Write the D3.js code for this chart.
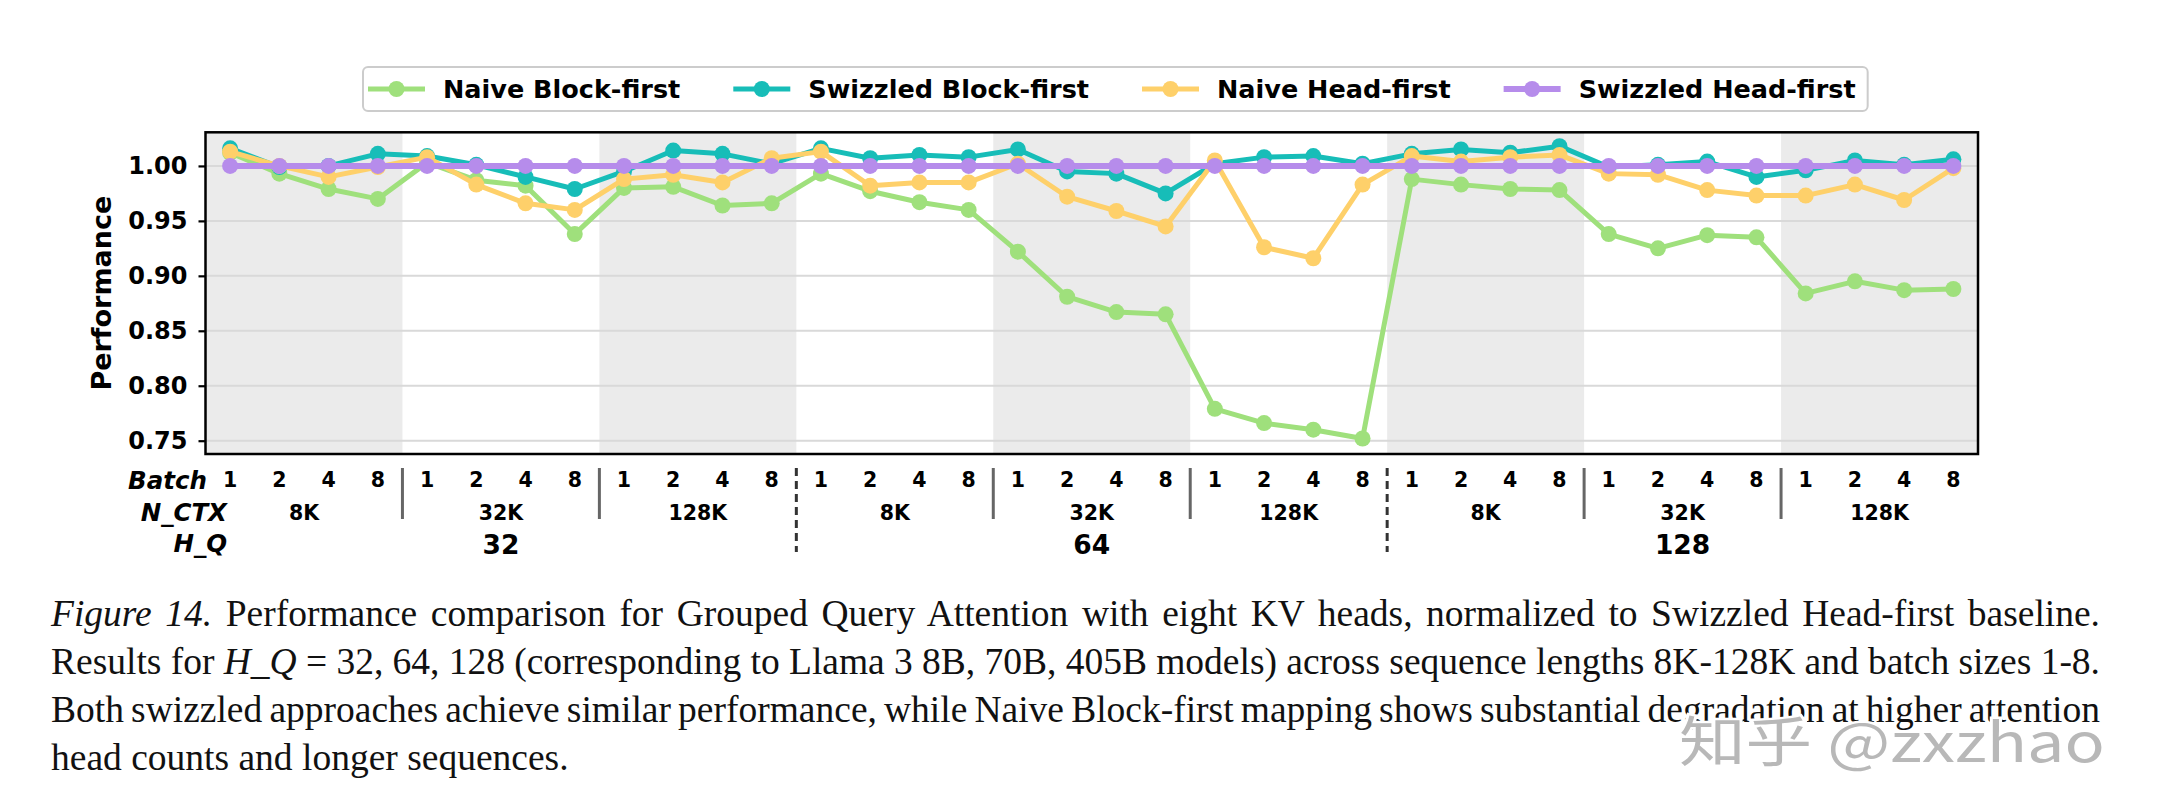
<!DOCTYPE html>
<html>
<head>
<meta charset="utf-8">
<script src="https://cdn.jsdelivr.net/npm/d3@7"></script>
<style>
  body { margin: 0; background: #fff; }
  svg { display: block; }
</style>
</head>
<body>
<svg id="chart" width="2162" height="808"></svg>
<script>
// data
const batchLabels = ["1", "2", "4", "8"];
const ctxLabels = ["8K", "32K", "128K"];
const hqLabels = ["32", "64", "128"];
const yTicks = [0.75, 0.80, 0.85, 0.90, 0.95, 1.00];

const naiveBlock = [1.012, 0.993, 0.979, 0.970, 1.003, 0.987, 0.982, 0.938, 0.980, 0.981, 0.964, 0.966,
                    0.993, 0.977, 0.967, 0.960, 0.922, 0.881, 0.867, 0.865, 0.779, 0.766, 0.760, 0.752,
                    0.988, 0.983, 0.979, 0.978, 0.938, 0.925, 0.937, 0.935, 0.884, 0.895, 0.887, 0.888];
const swizBlock = [1.016, 0.999, 1.000, 1.011, 1.009, 1.001, 0.990, 0.979, 0.995, 1.014, 1.011, 1.002,
                   1.016, 1.007, 1.010, 1.008, 1.015, 0.995, 0.993, 0.975, 1.002, 1.008, 1.009, 1.002,
                   1.011, 1.015, 1.012, 1.018, 0.999, 1.001, 1.004, 0.990, 0.996, 1.005, 1.001, 1.006];
const naiveHead = [1.013, 1.000, 0.990, 0.999, 1.008, 0.983, 0.966, 0.960, 0.988, 0.992, 0.985, 1.007,
                   1.013, 0.982, 0.985, 0.985, 1.002, 0.972, 0.959, 0.945, 1.005, 0.926, 0.916, 0.983,
                   1.009, 1.004, 1.008, 1.010, 0.993, 0.992, 0.978, 0.973, 0.973, 0.983, 0.969, 0.998];
const swizHead = [1, 1, 1, 1, 1, 1, 1, 1, 1, 1, 1, 1,
                  1, 1, 1, 1, 1, 1, 1, 1, 1, 1, 1, 1,
                  1, 1, 1, 1, 1, 1, 1, 1, 1, 1, 1, 1];

const series = [
  { name: "Naive Block-first", values: naiveBlock, color: "#9fe07c", w: 5 },
  { name: "Swizzled Block-first", values: swizBlock, color: "#17bdb8", w: 5 },
  { name: "Naive Head-first", values: naiveHead, color: "#fed06a", w: 5 },
  { name: "Swizzled Head-first", values: swizHead, color: "#b68ceb", w: 6 }
];

const captionLines = [
  [{ t: "Figure 14.", i: true }, { t: " Performance comparison for Grouped Query Attention with eight KV heads, normalized to Swizzled Head-first baseline." }],
  [{ t: "Results for " }, { t: "H", i: true }, { t: "_" }, { t: "Q", i: true }, { t: " = 32, 64, 128 (corresponding to Llama 3 8B, 70B, 405B models) across sequence lengths 8K-128K and batch sizes 1-8." }],
  [{ t: "Both swizzled approaches achieve similar performance, while Naive Block-first mapping shows substantial degradation at higher attention" }],
  [{ t: "head counts and longer sequences." }]
];

const nPts = naiveBlock.length;
const svg = d3.select("#chart");
const font = "'DejaVu Sans', sans-serif";

const plotL = 205.5, plotR = 1978, plotT = 132.3, plotB = 454;
const x = d3.scaleLinear().domain([-0.5, nPts - 0.5]).range([plotL, plotR]);
const y = d3.scaleLinear().domain([0.7379, 1.0306]).range([plotB, plotT]);

// alternating shaded N_CTX groups
const groups = d3.range(nPts / 4);
svg.append("g").selectAll("rect")
  .data(groups.filter(g => g % 2 === 0))
  .join("rect")
  .attr("x", g => x(g * 4 - 0.5))
  .attr("width", g => x(g * 4 + 3.5) - x(g * 4 - 0.5))
  .attr("y", plotT).attr("height", plotB - plotT)
  .attr("fill", "#ebebeb");

// grid
svg.append("g").selectAll("line")
  .data(yTicks).join("line")
  .attr("x1", plotL).attr("x2", plotR)
  .attr("y1", d => y(d)).attr("y2", d => y(d))
  .attr("stroke", "#d9d9d9").attr("stroke-width", 2);

// y axis
const yAxis = svg.append("g")
  .attr("transform", `translate(${plotL},0)`)
  .call(d3.axisLeft(y).tickValues(yTicks).tickFormat(d3.format(".2f")).tickSize(7).tickPadding(11));
yAxis.select(".domain").remove();
yAxis.selectAll(".tick line").attr("stroke", "#000").attr("stroke-width", 2.2);
yAxis.selectAll(".tick text")
  .attr("font-family", font).attr("font-weight", "bold").attr("font-size", 24).attr("fill", "#000");

svg.append("text")
  .attr("transform", `translate(101,${(plotT + plotB) / 2}) rotate(-90)`)
  .attr("text-anchor", "middle").attr("dominant-baseline", "central")
  .attr("font-family", font).attr("font-weight", "bold").attr("font-size", 27)
  .text("Performance");

// lines + markers
const line = d3.line().x((d, i) => x(i)).y(d => y(d));
series.forEach(s => {
  const g = svg.append("g");
  g.append("path").datum(s.values)
    .attr("d", line).attr("fill", "none")
    .attr("stroke", s.color).attr("stroke-width", s.w).attr("stroke-linejoin", "round");
  g.selectAll("circle").data(s.values).join("circle")
    .attr("cx", (d, i) => x(i)).attr("cy", d => y(d)).attr("r", 8)
    .attr("fill", s.color);
});

// frame
svg.append("rect")
  .attr("x", plotL).attr("y", plotT).attr("width", plotR - plotL).attr("height", plotB - plotT)
  .attr("fill", "none").attr("stroke", "#000").attr("stroke-width", 2.5);

// legend
const legend = svg.append("g");
const legBox = legend.append("rect")
  .attr("x", 363).attr("y", 67).attr("width", 1504).attr("height", 44).attr("rx", 5)
  .attr("fill", "#fff").attr("stroke", "#cccccc").attr("stroke-width", 2);
let lx = 368;
series.forEach(s => {
  legend.append("line").attr("x1", lx).attr("x2", lx + 57).attr("y1", 89).attr("y2", 89)
    .attr("stroke", s.color).attr("stroke-width", s.w);
  legend.append("circle").attr("cx", lx + 28.5).attr("cy", 89).attr("r", 8).attr("fill", s.color);
  const t = legend.append("text").attr("x", lx + 75).attr("y", 89)
    .attr("dominant-baseline", "central")
    .attr("font-family", font).attr("font-weight", "bold").attr("font-size", 25.5)
    .text(s.name);
  lx += 75 + t.node().getComputedTextLength() + 53;
});
legBox.attr("width", lx - 53 + 12 - 363);

// category labels under the axis
const lab = svg.append("g").attr("font-family", font).attr("font-weight", "bold");
lab.selectAll(".batch").data(d3.range(nPts)).join("text")
  .attr("x", i => x(i)).attr("y", 487).attr("text-anchor", "middle").attr("font-size", 20.5)
  .text(i => batchLabels[i % 4]);
lab.selectAll(".ctx").data(groups).join("text")
  .attr("x", g => x(g * 4 + 1.5)).attr("y", 520).attr("text-anchor", "middle").attr("font-size", 20.5)
  .text(g => ctxLabels[g % 3]);
lab.selectAll(".hq").data(d3.range(hqLabels.length)).join("text")
  .attr("x", h => x(h * 12 + 5.5)).attr("y", 554).attr("text-anchor", "middle").attr("font-size", 26.5)
  .text(h => hqLabels[h]);

[["Batch", 207, 489], ["N_CTX", 227, 521], ["H_Q", 227, 552]].forEach(([t, tx, ty]) => {
  lab.append("text").attr("x", tx).attr("y", ty).attr("text-anchor", "end")
    .attr("font-size", 24.5).attr("font-style", "italic").text(t);
});

// separators: solid between N_CTX groups, dashed between H_Q groups
const seps = d3.range(1, groups.length).map(g => g * 4 - 0.5);
const isHq = d => (d + 0.5) % 12 === 0;
svg.append("g").selectAll("line").data(seps).join("line")
  .attr("x1", d => x(d)).attr("x2", d => x(d))
  .attr("y1", 468).attr("y2", d => isHq(d) ? 552 : 519)
  .attr("stroke", d => isHq(d) ? "#333" : "#666")
  .attr("stroke-width", 3)
  .attr("stroke-dasharray", d => isHq(d) ? "8,5" : null);

// caption, justified like the paper
const capLeft = 51, capRight = 2100, capTop = 626, capStep = 48;
captionLines.forEach((parts, li) => {
  const t = svg.append("text")
    .attr("x", capLeft).attr("y", capTop + li * capStep)
    .attr("font-family", "'Liberation Serif', 'Times New Roman', serif")
    .attr("font-size", 37.5).attr("fill", "#111")
    .attr("xml:space", "preserve");
  parts.forEach(p => t.append("tspan").attr("font-style", p.i ? "italic" : null).text(p.t));
  if (li < captionLines.length - 1) {
    const spaces = parts.map(p => p.t).join("").split(" ").length - 1;
    const extra = (capRight - capLeft) - t.node().getComputedTextLength();
    t.attr("word-spacing", extra / spaces);
  }
});

// watermark (sits over the caption, as in the source image)
svg.append("text")
  .attr("x", 1679).attr("y", 762)
  .attr("font-family", "'Noto Sans CJK SC', 'Noto Sans', sans-serif")
  .attr("font-size", 54)
  .attr("textLength", 426).attr("lengthAdjust", "spacingAndGlyphs")
  .attr("fill", "#b8b8b8").attr("stroke", "#fff").attr("stroke-width", 5)
  .attr("paint-order", "stroke")
  .text("知乎 @zxzhao");
</script>
</body>
</html>
